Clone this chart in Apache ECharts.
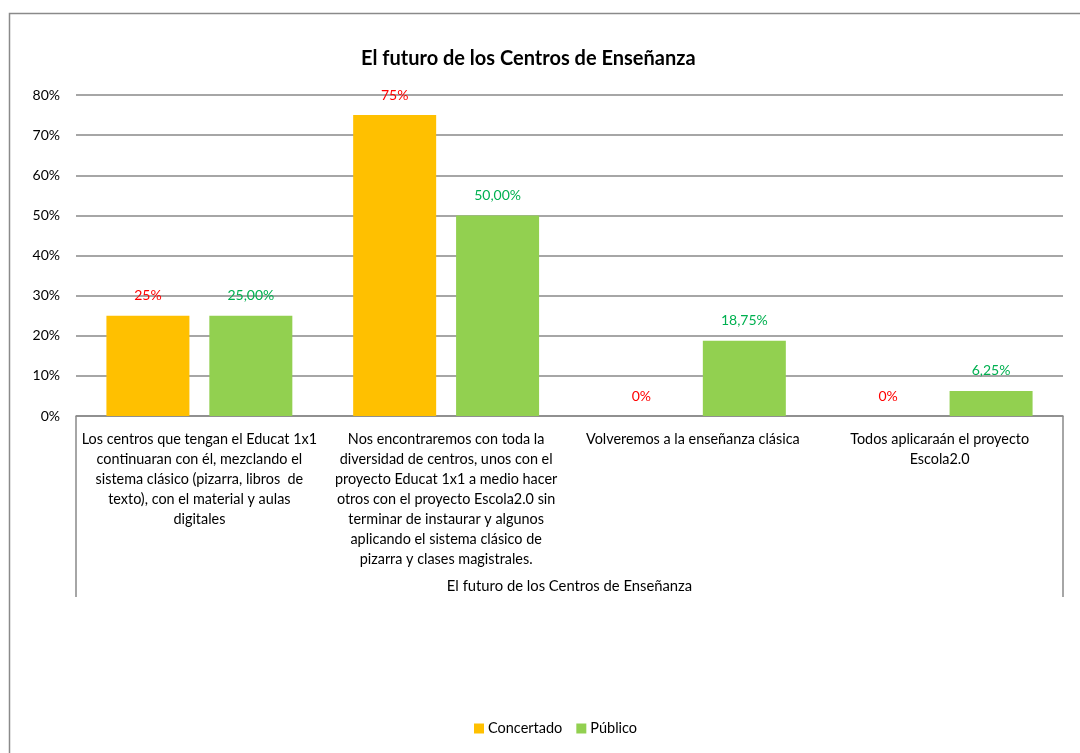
<!DOCTYPE html>
<html>
<head>
<meta charset="utf-8">
<script src="https://cdn.jsdelivr.net/npm/echarts@6/dist/echarts.min.js"></script>
<style>
html,body{margin:0;padding:0;background:#fff;}
#chart{width:1080px;height:753px;}
</style>
</head>
<body>
<div id="chart"></div>
<script>
const categories = [
  "Los centros que tengan el Educat 1x1\ncontinuaran con él, mezclando el\nsistema clásico (pizarra, libros  de\ntexto), con el material y aulas\ndigitales",
  "Nos encontraremos con toda la\ndiversidad de centros, unos con el\nproyecto Educat 1x1 a medio hacer\notros con el proyecto Escola2.0 sin\nterminar de instaurar y algunos\naplicando el sistema clásico de\npizarra y clases magistrales.",
  "Volveremos a la enseñanza clásica",
  "Todos aplicaraán el proyecto\nEscola2.0"
];
const groupLabel = ["El futuro de los Centros de Enseñanza"];
const seriesNames = ["Concertado", "Público"];
const concertado = [25, 75, 0, 0];
const publico = [25, 50, 18.75, 6.25];
const yTicks = { min: 0, max: 80, interval: 10 };
const titleText = "El futuro de los Centros de Enseñanza";

const FONT = "Lato, 'Open Sans', sans-serif";
const gridColor = "#898989";

const chart = echarts.init(document.getElementById('chart'), null, {renderer: 'canvas'});
chart.setOption({
  animation: false,
  backgroundColor: '#fff',
  textStyle: { fontFamily: FONT },
  graphic: [{
    type: 'rect', left: 7, top: 11, z: -1,
    shape: { width: 1200, height: 900 },
    style: { fill: 'none', stroke: '#8a8a8a', lineWidth: 1.5 }
  }],
  title: {
    text: titleText, left: 356, top: 44,
    textStyle: { fontFamily: FONT, fontWeight: 'bold', fontSize: 20, color: '#000' }
  },
  legend: {
    data: seriesNames, left: 469, bottom: 12,
    icon: 'rect', itemWidth: 10, itemHeight: 10, itemGap: 14, itemStyle: {},
    textStyle: { fontFamily: FONT, fontSize: 14.5, color: '#000', padding: [0, 0, 0, -1] }
  },
  grid: { left: 76, right: 17, top: 95, bottom: 337, containLabel: false },
  xAxis: [{
    type: 'category', data: categories, position: 'bottom',
    axisLine: { show: true, lineStyle: { color: gridColor, width: 1.5 } },
    axisTick: { show: false },
    axisLabel: { interval: 0, margin: 13, lineHeight: 20, fontSize: 14.4, color: '#000', fontFamily: FONT, align: 'center' }
  }, {
    type: 'category', data: groupLabel, position: 'bottom',
    axisLine: { show: false },
    axisTick: { show: true, length: 181, lineStyle: { color: gridColor, width: 1.5 } },
    axisLabel: { margin: 163, fontSize: 14.8, color: '#000', fontFamily: FONT }
  }],
  yAxis: {
    type: 'value', min: yTicks.min, max: yTicks.max, interval: yTicks.interval,
    axisLine: { show: false }, axisTick: { show: false },
    axisLabel: { formatter: '{value}%', margin: 16, fontSize: 14, color: '#000', fontFamily: FONT },
    splitLine: { lineStyle: { color: gridColor, width: 1.5 } }
  },
  series: [{
    name: seriesNames[0], type: 'bar', data: concertado, xAxisIndex: 0,
    barWidth: 83, barGap: '24%',
    itemStyle: { color: '#FFC000' },
    label: { show: true, position: 'top', distance: 13, color: '#FF0000', fontSize: 14, fontFamily: FONT,
      formatter: p => p.value + '%' }
  }, {
    name: seriesNames[1], type: 'bar', data: publico, xAxisIndex: 0,
    barWidth: 83, barGap: '24%',
    itemStyle: { color: '#92D050' },
    label: { show: true, position: 'top', distance: 13, color: '#00B050', fontSize: 14, fontFamily: FONT,
      formatter: p => p.value.toFixed(2).replace('.', ',') + '%' }
  }]
});
</script>
</body>
</html>
